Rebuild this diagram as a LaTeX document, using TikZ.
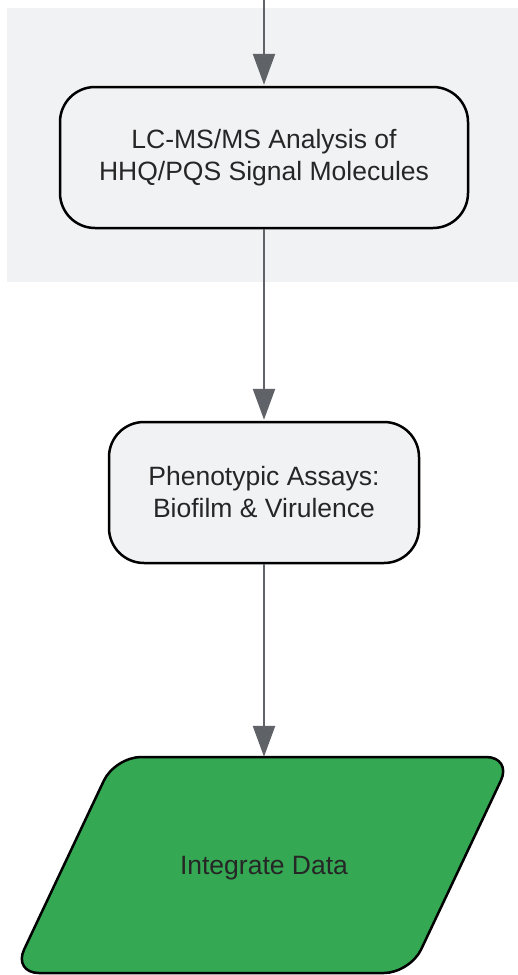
\documentclass[tikz,border=0pt]{standalone}
\usepackage{fontspec}
\setmainfont{Liberation Sans}
\usetikzlibrary{arrows.meta}
\definecolor{bg}{HTML}{F1F2F4}
\definecolor{boxfill}{HTML}{F1F2F4}
\definecolor{arr}{HTML}{5F6368}
\definecolor{grn}{HTML}{34A853}
\definecolor{txt}{HTML}{262626}
\begin{document}
\begin{tikzpicture}[x=1pt,y=-1pt,
  lbl/.style={align=center, text=txt, font=\fontsize{26.5}{32}\selectfont, inner sep=0pt},
  stepbox/.style={lbl, draw=black, line width=2.5pt, fill=boxfill, rounded corners=35pt},
  flow/.style={draw=arr, line width=2.5pt, -{Triangle[length=31pt,width=22pt]}, shorten >=1pt}]
\useasboundingbox (0,0) rectangle (518,975);
\fill[bg] (7,8) rectangle (518,282);
\coordinate (start) at (264,0);
\node[stepbox, minimum width=408pt, minimum height=141pt] (lcms) at (264,157.5) {LC-MS/MS Analysis of\\HHQ/PQS Signal Molecules};
\node[stepbox, minimum width=310pt, minimum height=141pt] (pheno) at (264,492.5) {Phenotypic Assays:\\Biofilm \& Virulence};
\coordinate (p1) at (115,757);
\coordinate (p2) at (512,757);
\coordinate (p3) at (410,973);
\coordinate (p4) at (13,973);
\draw[line width=2.5pt, fill=grn, rounded corners=26pt] (313,757) -- (p2) -- (p3) -- (p4) -- (p1) -- cycle;
\node[lbl, minimum height=220pt] (integ) at (264,868) {Integrate Data};
\draw[flow] (start) -- (lcms);
\draw[flow] (lcms) -- (pheno);
\draw[flow] (pheno) -- (integ);
\end{tikzpicture}
\end{document}
